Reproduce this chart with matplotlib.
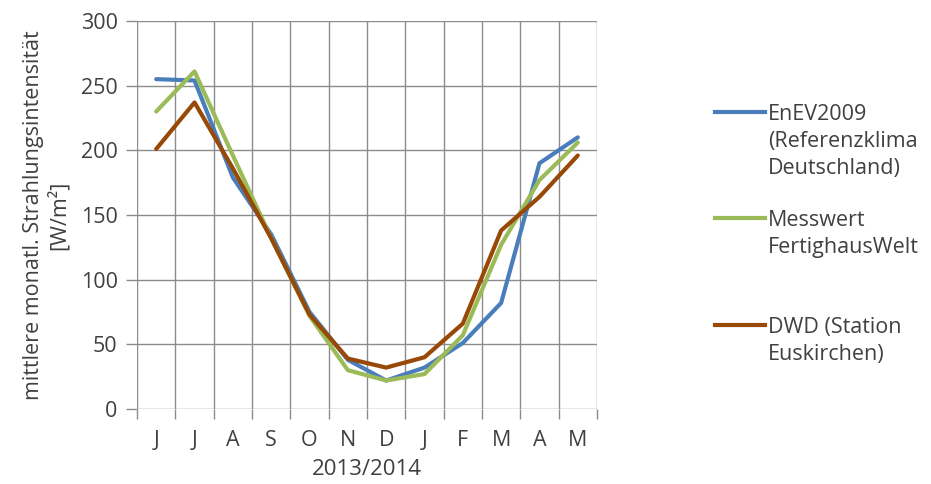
import matplotlib
matplotlib.use("Agg")
import matplotlib.pyplot as plt
from matplotlib.lines import Line2D

months = ["J", "J", "A", "S", "O", "N", "D", "J", "F", "M", "A", "M"]
enev = [255, 254, 179, 135, 75, 38, 22, 32, 51, 82, 190, 210]
messwert = [230, 261, 196, 132, 72, 30, 22, 27, 57, 127, 177, 206]
dwd = [201, 237, 186, 132, 73, 39, 32, 40, 66, 138, 164, 196]

series_names = ["EnEV2009\n(Referenzklima\nDeutschland)", "Messwert\nFertighausWelt", "DWD (Station\nEuskirchen)"]
colors = ["#4A7EBB", "#9BBB59", "#984807"]

plt.rcParams['font.family'] = ['Open Sans', 'DejaVu Sans']
txt = "#404040"
grid_c = "#8C8C8C"

fig = plt.figure(figsize=(9.31, 4.84), dpi=100)
ax = fig.add_axes([0.1472, 0.155, 0.494, 0.8017])

x = list(range(len(months)))
for vals, c in zip([enev, messwert, dwd], colors):
    ax.plot(x, vals, color=c, lw=3, solid_capstyle='round', solid_joinstyle='round', zorder=3)

ax.set_xlim(-0.5, len(months) - 0.5)
ax.set_ylim(0, 300)
ax.set_yticks(range(0, 301, 50))
ax.set_xticks([i for i in x])
ax.set_xticklabels(months)
ax.set_xticks([i - 0.5 for i in range(len(months) + 1)], minor=True)

ax.grid(False)
for i in range(len(months) + 1):
    ax.axvline(i - 0.5, color=grid_c, lw=1, zorder=1)
for v in range(0, 301, 50):
    ax.axhline(v, color=grid_c, lw=1, zorder=1)

for s in ax.spines.values():
    s.set_visible(False)

ax.tick_params(axis='x', which='major', length=0, pad=15, labelsize=15.5, labelcolor=txt)
ax.tick_params(axis='x', which='minor', length=7, width=1, color=grid_c, direction='out')
ax.tick_params(axis='y', which='major', length=8, width=1, color=grid_c, direction='out', pad=6, labelsize=15.5, labelcolor=txt)

ax.set_xlabel("2013/2014", fontsize=16, color=txt, labelpad=6)
ax.set_ylabel("mittlere monatl. Strahlungsintensität\n[W/m²]", fontsize=15.5, color=txt, labelpad=8, linespacing=1.15)

# legend
leg_y = [112, 218, 325]
W, H = 931, 484
for name, c, yy in zip(series_names, colors, leg_y):
    fy = 1 - yy / H
    fig.add_artist(Line2D([715 / W, 765 / W], [fy, fy], color=c, lw=3, transform=fig.transFigure))
    fig.text(768 / W, fy + 8 / H, name, fontsize=15.5, color=txt, va='top', ha='left',
             linespacing=1.38, transform=fig.transFigure)

fig.savefig("out.png", dpi=100)
